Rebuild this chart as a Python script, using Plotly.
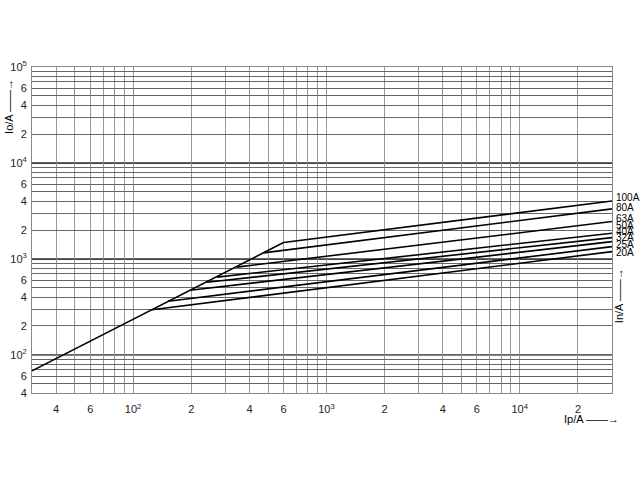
import math
import plotly.graph_objects as go

# ---- data ----
fuse_labels = ["100A", "80A", "63A", "50A", "40A", "32A", "25A", "20A"]
kink_ip = [600, 472, 344, 272, 241, 197, 152, 125]
kink_io = [1480, 1155, 820, 645, 570, 471, 362, 295]
end_ip = [30000, 30000, 30000, 30000, 30000, 30000, 30000, 30000]
end_io = [4018, 3318, 2450, 1853, 1667, 1514, 1343, 1191]

envelope_ip = [30, 600]
envelope_io = [68, 1480]

x_tickvals = [40, 60, 100, 200, 400, 600, 1000, 2000, 4000, 6000, 10000, 20000]
x_ticktext = ["4", "6", "10<sup>2</sup>", "2", "4", "6", "10<sup>3</sup>", "2", "4", "6", "10<sup>4</sup>", "2"]
y_tickvals = [40, 60, 100, 200, 400, 600, 1000, 2000, 4000, 6000, 10000, 20000, 40000, 60000, 100000]
y_ticktext = ["4", "6", "10<sup>2</sup>", "2", "4", "6", "10<sup>3</sup>", "2", "4", "6",
              "10<sup>4</sup>", "2", "4", "6", "10<sup>5</sup>"]
decades = [100, 1000, 10000]

x_range = [30, 30000]
y_range = [40, 100000]

# label offsets (px) for right-hand labels
label_yshift = [3, 1, 3, 8, 6, 4, 2, -1]

def grid_vals(lo, hi):
    vals = []
    d = 10 ** math.floor(math.log10(lo))
    while d <= hi:
        for m in range(1, 10):
            v = m * d
            if lo <= v <= hi:
                vals.append(v)
        d *= 10
    return vals

fig = go.Figure()

fig.add_trace(go.Scatter(x=envelope_ip, y=envelope_io, mode="lines",
                         line=dict(color="black", width=1.6), showlegend=False,
                         hoverinfo="skip"))
for i, lab in enumerate(fuse_labels):
    fig.add_trace(go.Scatter(x=[kink_ip[i], end_ip[i]], y=[kink_io[i], end_io[i]],
                             mode="lines", line=dict(color="black", width=1.6),
                             name=lab, showlegend=False))
    fig.add_annotation(x=math.log10(end_ip[i]), y=math.log10(end_io[i]), text=lab,
                       showarrow=False, xanchor="left", yanchor="middle",
                       xshift=3, yshift=label_yshift[i], borderpad=0,
                       font=dict(family="Liberation Sans, Arial", size=10, color="black"))

for d in decades:
    fig.add_hline(y=d, line=dict(color="black", width=1.6), layer="below")

font = dict(family="Liberation Sans, Arial", size=11, color="#222")

fig.update_xaxes(type="log", range=[math.log10(x_range[0]), math.log10(x_range[1])],
                 tickmode="array", tickvals=x_tickvals, ticktext=x_ticktext,
                 showgrid=False, ticks="", tickfont=font, ticklabelstandoff=6,
                 showline=True, linecolor="#888", linewidth=1, mirror=True,
                 zeroline=False, automargin=False,
                 minor=dict(tickmode="array", tickvals=grid_vals(*x_range),
                            showgrid=True, gridcolor="#999", gridwidth=1, ticks=""))
fig.update_yaxes(type="log", range=[math.log10(y_range[0]), math.log10(y_range[1])],
                 tickmode="array", tickvals=y_tickvals, ticktext=y_ticktext,
                 showgrid=False, ticks="", tickfont=font, ticklabelstandoff=2,
                 showline=True, linecolor="#888", linewidth=1, mirror=True,
                 zeroline=False, automargin=False,
                 minor=dict(tickmode="array", tickvals=grid_vals(*y_range),
                            showgrid=True, gridcolor="#666", gridwidth=1, ticks=""))

fig.add_annotation(xref="paper", yref="paper", x=-0.04, y=0.88, text="Io/A ——→",
                   textangle=-90, showarrow=False, xanchor="center", yanchor="middle",
                   font=dict(family="Liberation Sans, Arial", size=11, color="black"))
fig.add_annotation(xref="paper", yref="paper", x=1.012, y=0.3, text="In/A ——→",
                   textangle=-90, showarrow=False, xanchor="center", yanchor="middle",
                   font=dict(family="Liberation Sans, Arial", size=11, color="black"))
fig.add_annotation(xref="paper", yref="paper", x=0.965, y=-0.08, text="Ip/A ——→",
                   showarrow=False, xanchor="center", yanchor="middle",
                   font=dict(family="Liberation Sans, Arial", size=11, color="black"))

fig.update_layout(width=640, height=480, margin=dict(l=32, r=28, t=67, b=87),
                  plot_bgcolor="white", paper_bgcolor="white", showlegend=False)

fig.write_html("out.html", config={"displayModeBar": False},
               post_script="document.body.style.margin='0';")
